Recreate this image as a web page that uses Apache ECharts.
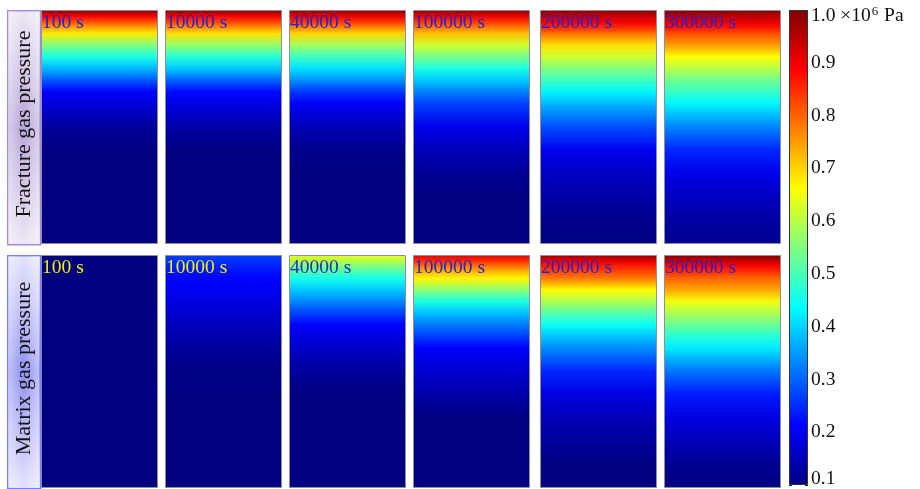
<!DOCTYPE html>
<html>
<head>
<meta charset="utf-8">
<script src="https://cdn.jsdelivr.net/npm/echarts@6/dist/echarts.min.js"></script>
<style>
html,body{margin:0;padding:0;background:#fff;}
#chart{width:920px;height:489px;}
</style>
</head>
<body>
<div id="chart"></div>
<script>
// Depth fractions (0 = top of panel, 1 = bottom) at which pressures were read
const DEPTH = [0, 0.025, 0.05, 0.075, 0.1, 0.15, 0.2, 0.25, 0.3, 0.35, 0.4, 0.5, 0.6, 0.7, 0.8, 0.9, 1.0];
const TIMES = ['100 s', '10000 s', '40000 s', '100000 s', '200000 s', '300000 s'];
const ROW_TITLES = ['Fracture gas pressure', 'Matrix gas pressure'];
const CB_TICKS = [1, 2, 3, 4, 5, 6, 7, 8, 9, 10]; // x0.1 ×10^6 Pa

// Fracture gas pressure (×10^6 Pa)
const frac_100    = [1.00, 0.90, 0.82, 0.745, 0.68, 0.55, 0.46, 0.375, 0.29, 0.21, 0.18, 0.125, 0.10, 0.10, 0.10, 0.10, 0.10];
const frac_10000  = [1.00, 0.90, 0.83, 0.76, 0.69, 0.57, 0.47, 0.39, 0.30, 0.22, 0.19, 0.135, 0.10, 0.10, 0.10, 0.10, 0.10];
const frac_40000  = [0.99, 0.91, 0.84, 0.77, 0.70, 0.58, 0.49, 0.41, 0.34, 0.26, 0.205, 0.15, 0.11, 0.10, 0.10, 0.10, 0.10];
const frac_100000 = [0.99, 0.91, 0.84, 0.78, 0.72, 0.62, 0.54, 0.46, 0.39, 0.325, 0.27, 0.195, 0.15, 0.12, 0.10, 0.10, 0.10];
const frac_200000 = [1.00, 0.94, 0.90, 0.85, 0.79, 0.69, 0.62, 0.55, 0.49, 0.43, 0.375, 0.28, 0.20, 0.16, 0.135, 0.11, 0.10];
const frac_300000 = [1.00, 0.95, 0.91, 0.87, 0.82, 0.75, 0.66, 0.60, 0.535, 0.485, 0.43, 0.33, 0.245, 0.195, 0.157, 0.13, 0.115];

// Matrix gas pressure (×10^6 Pa)
const mat_100    = [0.10, 0.10, 0.10, 0.10, 0.10, 0.10, 0.10, 0.10, 0.10, 0.10, 0.10, 0.10, 0.10, 0.10, 0.10, 0.10, 0.10];
const mat_10000  = [0.27, 0.255, 0.24, 0.225, 0.215, 0.20, 0.185, 0.17, 0.155, 0.14, 0.125, 0.105, 0.10, 0.10, 0.10, 0.10, 0.10];
const mat_40000  = [0.64, 0.60, 0.545, 0.50, 0.455, 0.39, 0.33, 0.27, 0.21, 0.185, 0.165, 0.125, 0.10, 0.10, 0.10, 0.10, 0.10];
const mat_100000 = [0.92, 0.85, 0.78, 0.72, 0.67, 0.56, 0.46, 0.38, 0.32, 0.265, 0.21, 0.17, 0.135, 0.10, 0.10, 0.10, 0.10];
const mat_200000 = [0.98, 0.91, 0.86, 0.82, 0.78, 0.665, 0.59, 0.51, 0.445, 0.385, 0.335, 0.245, 0.185, 0.15, 0.125, 0.10, 0.10];
const mat_300000 = [1.00, 0.94, 0.88, 0.84, 0.80, 0.74, 0.65, 0.59, 0.53, 0.47, 0.42, 0.315, 0.235, 0.185, 0.15, 0.115, 0.10];

const ROWS = [
  [frac_100, frac_10000, frac_40000, frac_100000, frac_200000, frac_300000],
  [mat_100, mat_10000, mat_40000, mat_100000, mat_200000, mat_300000]
];

const VMIN = 0.1, VMAX = 1.0;
function clamp01(x){ return Math.max(0, Math.min(1, x)); }
function jetT(t){
  const r = clamp01(1.5 - Math.abs(4*t - 3));
  const g = clamp01(1.5 - Math.abs(4*t - 2));
  const b = clamp01(1.5 - Math.abs(4*t - 1));
  return 'rgb(' + Math.round(r*255) + ',' + Math.round(g*255) + ',' + Math.round(b*255) + ')';
}
function jet(v){ return jetT(clamp01((v - VMIN) / (VMAX - VMIN))); }

const chart = echarts.init(document.getElementById('chart'), null, {renderer: 'canvas'});

const FONT = 'Liberation Serif, Times New Roman, serif';
const LEFTS = [41, 165, 289, 413, 540, 664];
const PW = 117;
const TOPS = [10, 255];
const PH = [234, 233];
const LABEL_COLORS = [
  ['#2222d8','#2222d8','#2222d8','#2222d8','#2222d8','#2222d8'],
  ['#f0f000','#f0f000','#1f2fc0','#2222d8','#2222d8','#2222d8']
];

const grid = [], xAxis = [], yAxis = [], series = [];
ROWS.forEach((row, r) => {
  row.forEach((vals, c) => {
    const gi = grid.length;
    grid.push({left: LEFTS[c], top: TOPS[r], width: PW, height: PH[r], containLabel: false});
    xAxis.push({type: 'category', gridIndex: gi, data: [TIMES[c]], show: false});
    yAxis.push({type: 'value', gridIndex: gi, min: 0, max: 1, show: false});
    const stops = DEPTH.map((d, k) => ({offset: d, color: jet(vals[k])}));
    series.push({
      type: 'bar', xAxisIndex: gi, yAxisIndex: yAxis.length - 1,
      data: [1], barWidth: '100%', silent: true, animation: false,
      itemStyle: {
        color: new echarts.graphic.LinearGradient(0, 0, 0, 1, stops),
        borderColor: '#8f8f9a', borderWidth: 1
      },
      label: {
        show: true, position: 'insideTopLeft', distance: 1, offset: [0, 2],
        formatter: TIMES[c], color: LABEL_COLORS[r][c],
        fontSize: 19.5, fontFamily: FONT
      }
    });
  });
});

// Colorbar
const cbGi = grid.length;
grid.push({left: 789, top: 10, width: 19, height: 477});
xAxis.push({type: 'category', gridIndex: cbGi, data: ['cb'], show: false});
const cbBarAxis = yAxis.length;
yAxis.push({type: 'value', gridIndex: cbGi, min: 0, max: 1, show: false});
const tickAxisCommon = {
  type: 'value', gridIndex: cbGi, min: CB_TICKS[0], max: CB_TICKS[CB_TICKS.length - 1], interval: 1,
  splitLine: {show: false},
  axisLine: {show: false},
  axisTick: {show: true, inside: true, length: 3, lineStyle: {color: '#222', width: 1}}
};
yAxis.push(Object.assign({}, tickAxisCommon, {
  position: 'right',
  axisLabel: {
    show: true, margin: 3, color: '#111', fontSize: 19.5, fontFamily: FONT, lineHeight: 12,
    verticalAlignMinLabel: 'bottom', verticalAlignMaxLabel: 'top',
    formatter: v => v === 10 ? '{a|1.0 ×10}{s|6}{a| Pa}' : (v / 10).toFixed(1),
    rich: {
      a: {fontSize: 19.5, fontFamily: FONT, color: '#111', lineHeight: 12},
      s: {fontSize: 13, fontFamily: FONT, color: '#111', lineHeight: 12, padding: [0, 1, 9, 1]}
    }
  }
}));
yAxis.push(Object.assign({}, tickAxisCommon, {position: 'left', axisLabel: {show: false}}));
const cbStops = [0, 0.125, 0.375, 0.625, 0.875, 1].map(t => ({offset: 1 - t, color: jetT(t)}));
series.push({
  type: 'bar', xAxisIndex: cbGi, yAxisIndex: cbBarAxis, data: [1], barWidth: '100%',
  silent: true, animation: false, z: 1,
  itemStyle: {color: new echarts.graphic.LinearGradient(0, 0, 0, 1, cbStops), borderColor: '#333', borderWidth: 1}
});

// Row title boxes
const boxStyles = [
  {center: '#b6a3d8', edge: '#ece7f4', border: '#a68ad8'},
  {center: '#8e8ef2', edge: '#e3e3fc', border: '#7d7df4'}
];
const graphic = [];
ROW_TITLES.forEach((t, r) => {
  const s = boxStyles[r];
  const x = 7, w = 33, y = TOPS[r], h = PH[r];
  graphic.push({
    type: 'rect', left: x, top: y, z: 5,
    shape: {width: w, height: h},
    style: {
      fill: new echarts.graphic.LinearGradient(0, 0, 0, 1, [
        {offset: 0, color: s.edge}, {offset: 0.5, color: s.center}, {offset: 1, color: s.edge}
      ]),
      stroke: s.border, lineWidth: 1.5
    }
  });
  graphic.push({
    type: 'rect', left: x + 1, top: y + 1, z: 6,
    shape: {width: w - 2, height: h - 2},
    style: {
      fill: new echarts.graphic.LinearGradient(0, 0, 1, 0, [
        {offset: 0, color: 'rgba(255,255,255,0.45)'}, {offset: 0.5, color: 'rgba(255,255,255,0)'}, {offset: 1, color: 'rgba(255,255,255,0.45)'}
      ])
    }
  });
  graphic.push({
    type: 'text', z: 7,
    x: x + w / 2 + 1, y: y + h / 2 - 3, rotation: Math.PI / 2,
    style: {
      text: t, fill: '#111', fontSize: 22, fontFamily: FONT,
      align: 'center', verticalAlign: 'middle'
    }
  });
});

chart.setOption({
  animation: false,
  backgroundColor: '#fff',
  grid, xAxis, yAxis, series, graphic
});
</script>
</body>
</html>
